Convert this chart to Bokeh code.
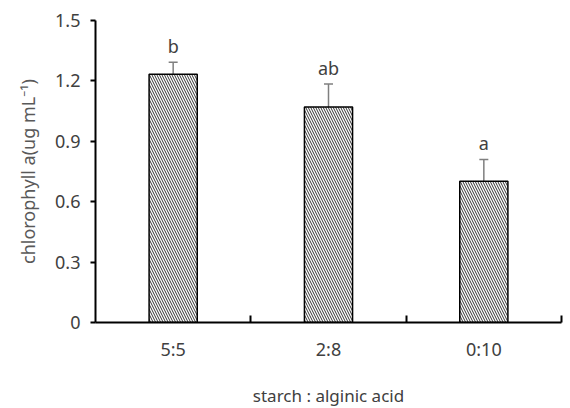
from bokeh.plotting import figure
from bokeh.models import (ColumnDataSource, Range1d, FixedTicker, Whisker, TeeHead,
                          CustomJSTickFormatter)
from bokeh.core.properties import value
from bokeh.embed import file_html
from bokeh.resources import INLINE

categories = ["5:5", "2:8", "0:10"]
means = [1.233, 1.07, 0.702]
errors = [0.06, 0.115, 0.108]
letters = ["b", "ab", "a"]
y_ticks = [0, 0.3, 0.6, 0.9, 1.2, 1.5]

FONT = "Noto Sans"
TXT = "#404040"

xs = [i + 0.5 for i in range(len(categories))]
upper = [m + e for m, e in zip(means, errors)]
src = ColumnDataSource(dict(x=xs, top=means, upper=upper, lab=letters))

p = figure(frame_width=466, frame_height=302, output_backend="svg", toolbar_location=None,
           x_range=Range1d(0, len(categories)), y_range=Range1d(0, 1.5),
           min_border_left=95, min_border_right=6, min_border_top=20, min_border_bottom=86)
p.outline_line_color = None
p.grid.grid_line_color = None
p.background_fill_color = "white"

p.vbar(x="x", top="top", width=0.31, source=src, fill_color="white",
       line_color="black", line_width=1.5, hatch_pattern="\\", hatch_color="black",
       hatch_scale=5, hatch_weight=0.8)

w = Whisker(base="x", lower="top", upper="upper", source=src, line_color="#7f7f7f",
            line_width=1.5, upper_head=TeeHead(size=9, line_color="#7f7f7f", line_width=1.5),
            lower_head=None)
p.add_layout(w)

p.text(x="x", y="upper", text="lab", source=src, text_align="center",
       text_baseline="bottom", y_offset=-4, text_font=value(FONT),
       text_font_size="18px", text_color=TXT)

# y axis
ya = p.yaxis[0]
ya.ticker = FixedTicker(ticks=y_ticks, minor_ticks=[])
ya.formatter = CustomJSTickFormatter(code="return tick == 0 ? '0' : tick.toFixed(1);")
ya.axis_line_width = 2
ya.axis_line_color = "black"
ya.major_tick_line_width = 2
ya.major_tick_line_color = "black"
ya.major_tick_out = 5
ya.major_tick_in = 0
ya.major_label_standoff = 10
ya.major_label_text_font = FONT
ya.major_label_text_font_size = "18px"
ya.major_label_text_color = TXT
ya.axis_label = "chlorophyll a(ug mL\u207b\u00b9)"
ya.axis_label_text_font = FONT
ya.axis_label_text_font_size = "18px"
ya.axis_label_text_font_style = "normal"
ya.axis_label_text_color = "#595959"
ya.axis_label_standoff = 12

# x axis
xa = p.xaxis[0]
xa.ticker = FixedTicker(ticks=xs, minor_ticks=list(range(1, len(categories) + 1)))
xa.major_label_overrides = {x: c for x, c in zip(xs, categories)}
xa.axis_line_width = 2
xa.axis_line_color = "black"
xa.major_tick_line_color = None
xa.major_tick_in = 0
xa.major_tick_out = 0
xa.minor_tick_line_color = "black"
xa.minor_tick_line_width = 2
xa.minor_tick_in = 7
xa.minor_tick_out = 0
xa.major_label_standoff = 14
xa.major_label_text_font = FONT
xa.major_label_text_font_size = "18px"
xa.major_label_text_color = TXT
xa.axis_label = "starch : alginic acid"
xa.axis_label_text_font = FONT
xa.axis_label_text_font_size = "17px"
xa.axis_label_text_font_style = "normal"
xa.axis_label_text_color = TXT
xa.axis_label_standoff = 20

open("out.html", "w").write(file_html(p, INLINE))
